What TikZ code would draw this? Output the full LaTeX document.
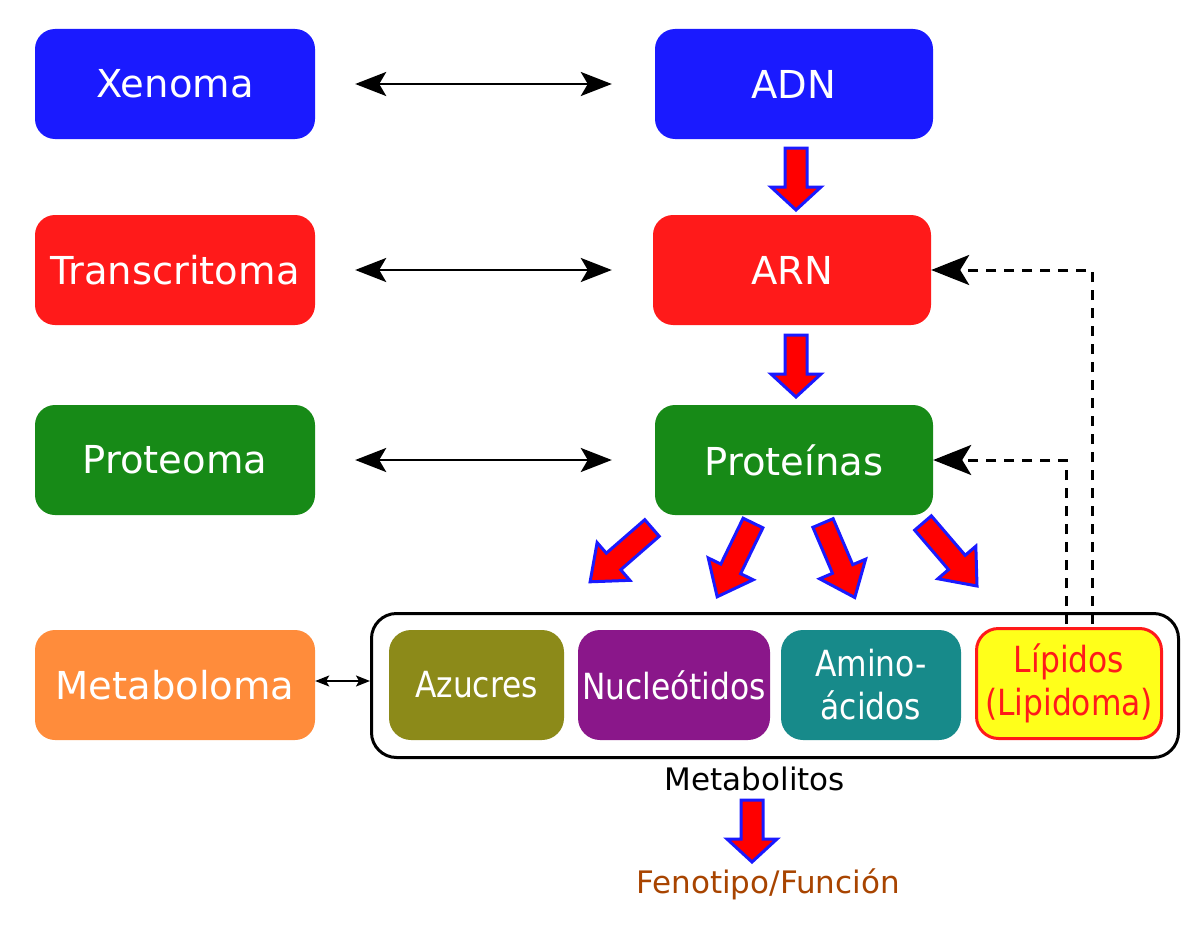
\documentclass[tikz,border=0pt]{standalone}
\usepackage{fontspec}
\setmainfont{DejaVu Sans}
\newfontfamily\condfont[FakeStretch=0.87]{DejaVu Sans}
\usetikzlibrary{arrows.meta,calc}
\definecolor{cblue}{HTML}{1A1AFF}
\definecolor{cred}{HTML}{FF1A1A}
\definecolor{cgreen}{HTML}{178A17}
\definecolor{corange}{HTML}{FF8C3B}
\definecolor{colive}{HTML}{8C8A19}
\definecolor{cpurple}{HTML}{8A178A}
\definecolor{cteal}{HTML}{178A8A}
\definecolor{cyellow}{HTML}{FFFF1A}
\definecolor{cbrown}{HTML}{A84400}
\definecolor{arrred}{HTML}{FF0000}
\definecolor{arrblue}{HTML}{1A1AFF}
\newcommand{\blockarr}[4]{%
  \begin{scope}[shift={#1},rotate=#2]
    \draw[blockarrow] (0,-11) -- ({#3-#4},-11) -- ({#3-#4},-25) -- (#3,0) -- ({#3-#4},25) -- ({#3-#4},11) -- (0,11) -- cycle;
  \end{scope}}
\tikzset{
  bigbox/.style={rounded corners=20pt, minimum width=280pt, minimum height=110pt, inner sep=0pt, text=white, font=\fontsize{38.5}{44}\selectfont},
  smallbox/.style={rounded corners=22pt, minimum height=110pt, inner sep=0pt, text=white, align=center, font=\condfont\fontsize{36}{43}\selectfont},
  blockarrow/.style={draw=arrblue, fill=arrred, line width=3pt, line join=miter},
  dbl/.style={line width=2.5pt, {Stealth[length=31pt,width=24pt,inset=7pt]}-{Stealth[length=31pt,width=24pt,inset=7pt]}},
  sdbl/.style={line width=1.6pt, {Stealth[length=14pt,width=11pt,inset=3pt]}-{Stealth[length=14pt,width=11pt,inset=3pt]}},
  dsh/.style={line width=3pt, dash pattern=on 10pt off 8pt, -{Stealth[length=38pt,width=30pt,inset=9pt]}},
}
\begin{document}
\begin{tikzpicture}[x=1pt,y=-1pt]
\useasboundingbox (0,0) rectangle (1200,934);
% left column
\node[bigbox, fill=cblue] (xen) at (175,84) {Xenoma};
\node[bigbox, fill=cred] (trn) at (175,270) {Transcritoma};
\node[bigbox, fill=cgreen] (prt) at (175,460) {Proteoma};
\node[bigbox, fill=corange] (met) at (175,685) {Metaboloma};
% right column
\node[bigbox, fill=cblue, minimum width=278pt] (adn) at (794,84) {ADN};
\node[bigbox, fill=cred, minimum width=278pt] (arn) at (792,270) {ARN};
\node[bigbox, fill=cgreen, minimum width=278pt] (pro) at (794,460) {Proteínas};
% container
\node[draw=black, line width=3pt, rounded corners=25pt, minimum width=807pt, minimum height=144pt, inner sep=0pt] (cont) at (775,685.5) {};
\node[smallbox, fill=colive, minimum width=175pt] (azu) at (476.5,685) {Azucres};
\node[smallbox, fill=cpurple, minimum width=192pt] (nuc) at (674,685) {Nucleótidos};
\node[smallbox, fill=cteal, minimum width=180pt] (ami) at (871,685) {Amino-\\ácidos};
\node[smallbox, draw=cred, line width=3pt, fill=cyellow, text=cred, minimum width=185pt, minimum height=110pt] (lip) at (1069,683.5) {Lípidos\\(Lipidoma)};
\node[font=\fontsize{31}{36}\selectfont, inner sep=0pt] (mlbl) at (755,779) {Metabolitos};
\node[font=\fontsize{31}{36}\selectfont, text=cbrown, inner sep=0pt] (fen) at (768,884) {Fenotipo/Función};
% double arrows
\draw[dbl, shorten <=40pt, shorten >=43pt] (xen.east) -- (adn.west);
\draw[dbl, shorten <=40pt, shorten >=41pt] (trn.east) -- (arn.west);
\draw[dbl, shorten <=40pt, shorten >=43pt] (prt.east) -- (pro.west);
\draw[sdbl] (met.east) ++(0,-4) coordinate (m1) -- (m1 -| cont.west);
% dashed feedback
\coordinate (d1) at (1092,624);
\coordinate (d2) at (1066,624);
\draw[dsh] (d1) |- (arn.east);
\draw[dsh] (d2) |- (pro.east);
% block arrows
\blockarr{(796,148)}{270}{62}{23}
\blockarr{(796,335)}{270}{62}{23}
\blockarr{(752,800)}{270}{62}{23}
\blockarr{(652,528)}{221}{82}{31}
\blockarr{(753,523)}{244.1}{82}{31}
\blockarr{(823,523)}{293.1}{81}{31}
\blockarr{(923,523)}{310.6}{83}{31}
\end{tikzpicture}
\end{document}
